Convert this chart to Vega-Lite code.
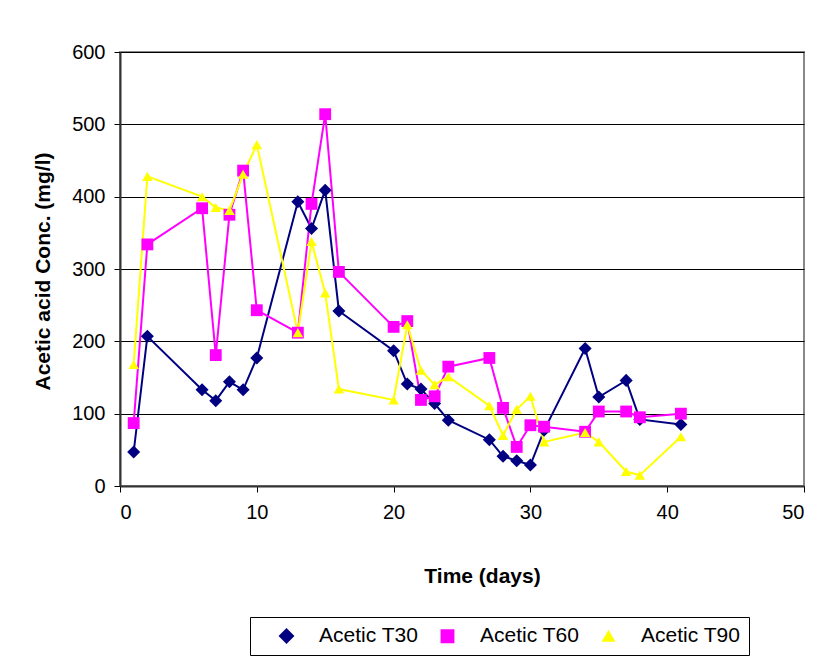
{
  "$schema": "https://vega.github.io/schema/vega-lite/v6.json",
  "autosize": {"type": "none"},
  "width": 684,
  "height": 434,
  "padding": {"left": 120, "top": 52, "right": 21, "bottom": 171},
  "background": "white",
  "config": {
    "font": "Liberation Sans",
    "view": {"stroke": "#888888", "strokeWidth": 2},
    "axis": {
      "labelFont": "Liberation Sans",
      "labelFontSize": 20,
      "labelColor": "#000000",
      "titleFont": "Liberation Sans",
      "titleFontSize": 21,
      "titleFontWeight": "bold",
      "titleColor": "#000000",
      "domainColor": "#333333",
      "domainWidth": 2,
      "tickColor": "#000000",
      "tickSize": 6,
      "tickWidth": 1
    }
  },
  "data": {
    "values": [
      {"day": 1, "series": "Acetic T30", "conc": 47},
      {"day": 2, "series": "Acetic T30", "conc": 207},
      {"day": 6, "series": "Acetic T30", "conc": 133},
      {"day": 7, "series": "Acetic T30", "conc": 118},
      {"day": 8, "series": "Acetic T30", "conc": 144},
      {"day": 9, "series": "Acetic T30", "conc": 133},
      {"day": 10, "series": "Acetic T30", "conc": 177},
      {"day": 13, "series": "Acetic T30", "conc": 393},
      {"day": 14, "series": "Acetic T30", "conc": 356},
      {"day": 15, "series": "Acetic T30", "conc": 409},
      {"day": 16, "series": "Acetic T30", "conc": 242},
      {"day": 20, "series": "Acetic T30", "conc": 187},
      {"day": 21, "series": "Acetic T30", "conc": 141},
      {"day": 22, "series": "Acetic T30", "conc": 134},
      {"day": 23, "series": "Acetic T30", "conc": 114},
      {"day": 24, "series": "Acetic T30", "conc": 91},
      {"day": 27, "series": "Acetic T30", "conc": 64},
      {"day": 28, "series": "Acetic T30", "conc": 41},
      {"day": 29, "series": "Acetic T30", "conc": 35},
      {"day": 30, "series": "Acetic T30", "conc": 29},
      {"day": 31, "series": "Acetic T30", "conc": 77},
      {"day": 34, "series": "Acetic T30", "conc": 190},
      {"day": 35, "series": "Acetic T30", "conc": 123},
      {"day": 37, "series": "Acetic T30", "conc": 146},
      {"day": 38, "series": "Acetic T30", "conc": 92},
      {"day": 41, "series": "Acetic T30", "conc": 85},
      {"day": 1, "series": "Acetic T60", "conc": 87},
      {"day": 2, "series": "Acetic T60", "conc": 334},
      {"day": 6, "series": "Acetic T60", "conc": 384},
      {"day": 7, "series": "Acetic T60", "conc": 181},
      {"day": 8, "series": "Acetic T60", "conc": 375},
      {"day": 9, "series": "Acetic T60", "conc": 436},
      {"day": 10, "series": "Acetic T60", "conc": 243},
      {"day": 13, "series": "Acetic T60", "conc": 212},
      {"day": 14, "series": "Acetic T60", "conc": 390},
      {"day": 15, "series": "Acetic T60", "conc": 514},
      {"day": 16, "series": "Acetic T60", "conc": 296},
      {"day": 20, "series": "Acetic T60", "conc": 220},
      {"day": 21, "series": "Acetic T60", "conc": 228},
      {"day": 22, "series": "Acetic T60", "conc": 119},
      {"day": 23, "series": "Acetic T60", "conc": 124},
      {"day": 24, "series": "Acetic T60", "conc": 165},
      {"day": 27, "series": "Acetic T60", "conc": 177},
      {"day": 28, "series": "Acetic T60", "conc": 108},
      {"day": 29, "series": "Acetic T60", "conc": 54},
      {"day": 30, "series": "Acetic T60", "conc": 84},
      {"day": 31, "series": "Acetic T60", "conc": 82},
      {"day": 34, "series": "Acetic T60", "conc": 75},
      {"day": 35, "series": "Acetic T60", "conc": 103},
      {"day": 37, "series": "Acetic T60", "conc": 103},
      {"day": 38, "series": "Acetic T60", "conc": 95},
      {"day": 41, "series": "Acetic T60", "conc": 100},
      {"day": 1, "series": "Acetic T90", "conc": 168},
      {"day": 2, "series": "Acetic T90", "conc": 428},
      {"day": 6, "series": "Acetic T90", "conc": 400},
      {"day": 7, "series": "Acetic T90", "conc": 385},
      {"day": 8, "series": "Acetic T90", "conc": 381},
      {"day": 9, "series": "Acetic T90", "conc": 431},
      {"day": 10, "series": "Acetic T90", "conc": 472},
      {"day": 13, "series": "Acetic T90", "conc": 212},
      {"day": 14, "series": "Acetic T90", "conc": 338},
      {"day": 15, "series": "Acetic T90", "conc": 267},
      {"day": 16, "series": "Acetic T90", "conc": 134},
      {"day": 20, "series": "Acetic T90", "conc": 119},
      {"day": 21, "series": "Acetic T90", "conc": 223},
      {"day": 22, "series": "Acetic T90", "conc": 160},
      {"day": 23, "series": "Acetic T90", "conc": 140},
      {"day": 24, "series": "Acetic T90", "conc": 151},
      {"day": 27, "series": "Acetic T90", "conc": 111},
      {"day": 28, "series": "Acetic T90", "conc": 70},
      {"day": 29, "series": "Acetic T90", "conc": 106},
      {"day": 30, "series": "Acetic T90", "conc": 124},
      {"day": 31, "series": "Acetic T90", "conc": 61},
      {"day": 34, "series": "Acetic T90", "conc": 74},
      {"day": 35, "series": "Acetic T90", "conc": 61},
      {"day": 37, "series": "Acetic T90", "conc": 20},
      {"day": 38, "series": "Acetic T90", "conc": 15},
      {"day": 41, "series": "Acetic T90", "conc": 68}
    ]
  },
  "encoding": {
    "x": {
      "field": "day",
      "type": "quantitative",
      "scale": {"domain": [0, 50], "nice": false},
      "axis": {
        "title": "Time (days)",
        "values": [0, 10, 20, 30, 40, 50],
        "grid": false,
        "labelPadding": 10,
        "titleX": 362,
        "titleY": 90,
        "titleBaseline": "middle"
      }
    },
    "y": {
      "field": "conc",
      "type": "quantitative",
      "scale": {"domain": [0, 600], "nice": false},
      "axis": {
        "title": "Acetic acid Conc. (mg/l)",
        "values": [0, 100, 200, 300, 400, 500, 600],
        "grid": true,
        "gridColor": "#000000",
        "gridWidth": 1,
        "gridOpacity": 1,
        "labelPadding": 9,
        "titleX": -77,
        "titleY": 219,
        "titleAngle": -90,
        "titleAlign": "center",
        "titleBaseline": "middle"
      }
    },
    "color": {
      "field": "series",
      "type": "nominal",
      "scale": {
        "domain": ["Acetic T30", "Acetic T60", "Acetic T90"],
        "range": ["#000080", "#FF00FF", "#FFFF00"]
      },
      "legend": {
        "title": null,
        "orient": "none",
        "direction": "horizontal",
        "legendX": 130,
        "legendY": 565,
        "padding": 8,
        "strokeColor": "#000000",
        "fillColor": "#ffffff",
        "labelFont": "Liberation Sans",
        "labelFontSize": 21,
        "labelColor": "#000000",
        "symbolSize": 100,
        "symbolOffset": 18,
        "labelOffset": 22,
        "columnPadding": -3,
        "encode": {
          "symbols": {
            "update": {
              "shape": {
                "value": {
                  "expr": "datum.value === 'Acetic T30' ? 'M-4,0H4M-1.1,0L0,-1.1L1.1,0L0,1.1Z' : datum.value === 'Acetic T60' ? 'M-4,0H4M-0.9,-0.9H0.9V0.9H-0.9Z' : 'M-4,0H4M0,-1.1L1.1,0.9L-1.1,0.9Z'"
                }
              },
              "stroke": {
                "value": {
                  "expr": "datum.value === 'Acetic T30' ? '#000080' : datum.value === 'Acetic T60' ? '#FF00FF' : '#FFFF00'"
                }
              },
              "strokeWidth": {"value": 2}
            }
          }
        }
      }
    }
  },
  "layer": [
    {
      "mark": {"type": "line", "strokeWidth": 2}
    },
    {
      "mark": {"type": "point", "filled": true, "opacity": 1},
      "encoding": {
        "shape": {
          "field": "series",
          "type": "nominal",
          "scale": {
            "domain": ["Acetic T30", "Acetic T60", "Acetic T90"],
            "range": ["diamond", "square", "triangle-up"]
          },
          "legend": null
        },
        "size": {
          "field": "series",
          "type": "nominal",
          "scale": {
            "domain": ["Acetic T30", "Acetic T60", "Acetic T90"],
            "range": [170, 110, 190]
          },
          "legend": null
        }
      }
    }
  ]
}
